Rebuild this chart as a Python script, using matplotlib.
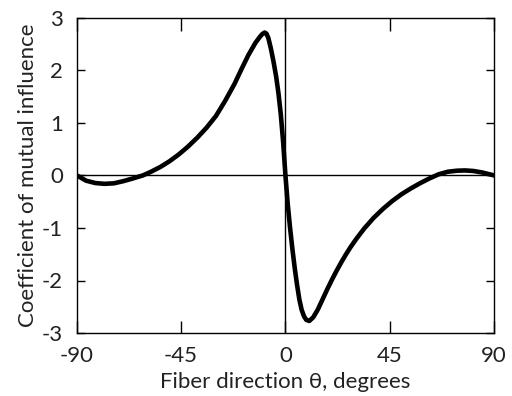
import matplotlib
matplotlib.use("Agg")
import matplotlib.pyplot as plt

theta = [-90, -86, -82, -78, -74, -70, -66, -61.5, -58, -54, -50, -46, -42, -38,
         -34, -30, -26, -22, -19, -16, -13, -11, -10, -9, -8.2, -7.4, -6.3, -5.2,
         -4, -3, -2, -1, 0, 1, 2, 3, 4, 5, 6, 7, 8, 9, 10.3, 12, 14, 16, 18, 20,
         22, 24, 26, 28, 30.7, 34, 38, 42, 46, 50, 54, 58, 62, 64, 66, 70, 74,
         77.5, 81, 85, 90]
coef = [0.0, -0.10, -0.145, -0.16, -0.15, -0.11, -0.06, 0.0, 0.07, 0.16, 0.27, 0.40,
        0.55, 0.72, 0.91, 1.13, 1.42, 1.74, 2.02, 2.29, 2.52, 2.64, 2.69, 2.72,
        2.70, 2.62, 2.42, 2.18, 1.88, 1.56, 1.16, 0.64, 0.0, -0.55, -1.00, -1.40,
        -1.76, -2.08, -2.36, -2.56, -2.68, -2.75, -2.77, -2.70, -2.55, -2.36,
        -2.17, -1.99, -1.82, -1.66, -1.51, -1.37, -1.20, -1.01, -0.81, -0.64,
        -0.49, -0.36, -0.25, -0.15, -0.06, -0.02, 0.02, 0.07, 0.09, 0.095, 0.085,
        0.055, 0.0]

xticks = [-90, -45, 0, 45, 90]
yticks = [-3, -2, -1, 0, 1, 2, 3]

plt.rcParams['font.family'] = ['Lato', 'DejaVu Sans']

fig = plt.figure(figsize=(5.12, 3.96), dpi=100)
ax = fig.add_axes([0.150, 0.159, 0.815, 0.796])

ax.axhline(0, color='black', lw=1.0, zorder=1)
ax.axvline(0, color='black', lw=1.0, zorder=1)
ax.plot(theta, coef, color='black', lw=3.3, solid_capstyle='round',
        solid_joinstyle='round', zorder=3)

ax.set_xlim(-90, 90)
ax.set_ylim(-3, 3)
ax.set_xticks(xticks)
ax.set_yticks(yticks)
ax.set_xticklabels([str(t) for t in xticks])
ax.set_yticklabels([str(t) for t in yticks])

ax.tick_params(axis='x', direction='in', length=9, width=1.0, top=True,
               labelsize=16, pad=9, color='black', labelcolor='#222222')
ax.tick_params(axis='y', direction='in', length=6, width=1.0, right=True,
               labelsize=16, pad=10, color='black', labelcolor='#222222')
for s in ax.spines.values():
    s.set_linewidth(1.0)
    s.set_color('black')

ax.set_xlabel('Fiber direction θ, degrees', fontsize=16, labelpad=5,
              color='#222222')
ax.set_ylabel('Coefficient of mutual influence', fontsize=16, labelpad=3,
              color='#222222')

fig.savefig('out.png', dpi=100)
